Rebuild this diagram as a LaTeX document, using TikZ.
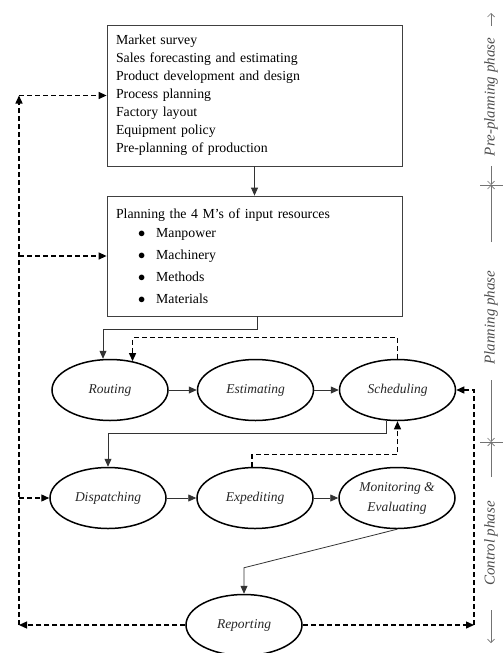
\documentclass[tikz,border=0pt]{standalone}
\usepackage{fontspec}
\setmainfont{Liberation Serif}
\usetikzlibrary{arrows.meta,shapes.geometric}
\newcommand{\itembul}{\hspace*{22pt}$\bullet$\hspace{11pt}}
\begin{document}
\begin{tikzpicture}[x=1pt, y=-1pt,
     tip/.style={-{Triangle[length=8pt,width=7pt]}},
     link/.style={tip, line width=0.8pt, draw=black!80},
     back/.style={tip, line width=1.3pt, dash pattern=on 5pt off 3pt},
     listbox/.style={draw=black!75, line width=0.8pt, text width=277pt,
          inner xsep=9pt, minimum height=#1, align=left,
          font=\fontsize{13.8}{18}\selectfont, text=black},
     stage/.style={draw, ellipse, line width=1.5pt, minimum width=116pt,
          minimum height=61pt, inner sep=0pt, align=center,
          font=\fontsize{13.5}{20}\selectfont\itshape, text=black!85},
     phase/.style={rotate=90, inner sep=0pt, text=black!70,
          font=\fontsize{15}{17}\selectfont\itshape},
     dim/.style={draw=black!55, line width=0.7pt}]
\useasboundingbox (0,0) rectangle (503,653);
\node[listbox=141pt] (pre) at (254.5,95.5) {Market survey\\
     Sales forecasting and estimating\\
     Product development and design\\
     Process planning\\
     Factory layout\\
     Equipment policy\\
     Pre-planning of production};
\node[listbox=120pt] (plan) at (254.5,256) {Planning the 4 M’s of input resources\\[1pt]
     \itembul Manpower\\[4pt]
     \itembul Machinery\\[4pt]
     \itembul Methods\\[4pt]
     \itembul Materials};
\foreach \name/\x/\y/\txt in {rout/110/390/Routing, est/255.5/390/Estimating,
     sched/397.5/390/Scheduling, disp/108/498/Dispatching, exp/255/498/Expediting,
     mon/397/498/{Monitoring \&\\Evaluating}, rep/244/625/Reporting}
  \node[stage] (\name) at (\x,\y) {\txt};
\coordinate (lc) at (19,625);
\coordinate (rc) at (474,625);
% forward flow
\draw[link] (pre) -- (plan);
\draw[link] ([xshift=2.5pt]plan.south) -- ++(0,13) -| ([xshift=-7pt]rout.north);
\draw[link] (rout) -- (est);
\draw[link] (est) -- (sched);
\draw[link] ([xshift=-11pt]sched.south) -- ++(0,12) -| (disp.north);
\draw[link] (disp) -- (exp);
\draw[link] (exp) -- (mon);
\draw[link] (mon.south) -- ([yshift=26pt]rep.north) -- (rep.north);
% feedback
\draw[back] (sched.north) -- ++(0,-21) -| (rout.52);
\draw[back] ([xshift=-3pt]exp.north) -- ++(0,-12) -| (sched.south);
\draw[back] (rep) -- (lc);
\draw[back] (rep) -- (rc);
\draw[back] (rc) |- (sched.east);
\draw[back] (lc) -- (lc |- pre.west);
\draw[back] (lc |- pre.west) -- (pre.west);
\draw[back] (lc |- plan.west) -- (plan.west);
\draw[back] (lc |- disp.west) -- (disp.west);
% phases
\node[phase] (pp) at (491,97) {Pre-planning phase};
\node[phase] (pl) at (491,317.5) {Planning phase};
\node[phase] (cp) at (491,543.5) {Control phase};
\foreach \a/\b in {26/13, 166/185, 242/185, 380/442, 477/442, 610/643}
  \draw[dim, -{Straight Barb[length=3.5pt,width=7pt]}] (491,\a) -- (491,\b);
\foreach \b in {185, 442}
  \draw[dim] (480,\b) -- (503,\b);
\end{tikzpicture}
\end{document}
